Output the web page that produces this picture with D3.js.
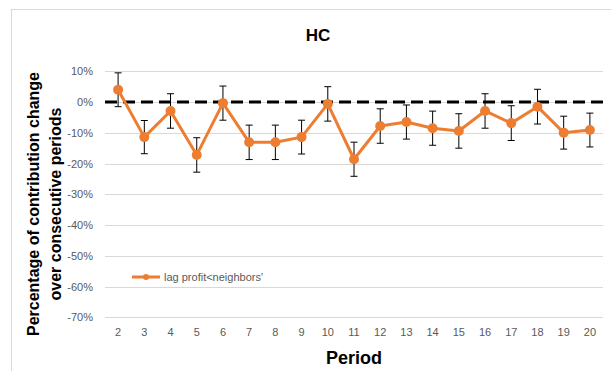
<!DOCTYPE html>
<html>
<head>
<meta charset="utf-8">
<script src="https://cdn.jsdelivr.net/npm/d3@7"></script>
<style>
  body { margin: 0; background: #fff; }
  text { font-family: "Liberation Sans", Arial, sans-serif; }
</style>
</head>
<body>
<svg id="chart" width="611" height="371"></svg>
<script>
// data (percent)
var periods = ['2', '3', '4', '5', '6', '7', '8', '9', '10', '11', '12', '13', '14', '15', '16', '17', '18', '19', '20'];
var values = [4.0, -11.4, -2.9, -17.2, -0.35, -13.1, -13.1, -11.4, -0.6, -18.6, -7.8, -6.5, -8.5, -9.4, -2.9, -6.85, -1.5, -9.95, -9.1];
var errors = [5.5, 5.4, 5.6, 5.6, 5.55, 5.6, 5.6, 5.5, 5.6, 5.55, 5.6, 5.55, 5.55, 5.6, 5.6, 5.65, 5.65, 5.35, 5.5];
var yTicks = [10, 0, -10, -20, -30, -40, -50, -60, -70];
var seriesName = "lag profit<neighbors'";

var orange = '#ED7D31';
var gridColor = '#d9d9d9';
var tickColor = '#595959';

var svg = d3.select('#chart');

// plot area (named so they don't clash with window.top)
var plotLeft = 105, plotRight = 603, plotTop = 71.3, plotBottom = 317.3;

var x = d3.scaleBand()
  .domain(periods)
  .range([plotLeft, plotRight])
  .padding(0);

var y = d3.scaleLinear()
  .domain([-70, 10])
  .range([plotBottom, plotTop]);

function cx(p) { return x(p) + x.bandwidth() / 2; }

// outer frame
svg.append('rect')
  .attr('x', 11.5)
  .attr('y', 9.5)
  .attr('width', 640)
  .attr('height', 420)
  .attr('fill', 'none')
  .attr('stroke', gridColor);

// title
svg.append('text')
  .attr('x', 318)
  .attr('y', 41)
  .attr('text-anchor', 'middle')
  .attr('font-size', 17)
  .attr('font-weight', 'bold')
  .text('HC');

// gridlines
svg.append('g')
  .selectAll('line')
  .data(yTicks)
  .enter().append('line')
  .attr('x1', plotLeft)
  .attr('x2', plotRight)
  .attr('y1', function(d) { return Math.round(y(d)) + 0.5; })
  .attr('y2', function(d) { return Math.round(y(d)) + 0.5; })
  .attr('stroke', gridColor)
  .attr('stroke-width', 1);

// y axis labels
var yAxis = svg.append('g')
  .attr('transform', 'translate(' + plotLeft + ',0)')
  .call(d3.axisLeft(y).tickValues(yTicks).tickSize(0).tickPadding(12)
    .tickFormat(function(d) { return d + '%'; }));
yAxis.select('.domain').remove();
yAxis.selectAll('text')
  .attr('fill', tickColor)
  .attr('font-size', 11)
  .attr('font-family', '"Liberation Sans", Arial, sans-serif');

// x axis labels
var xAxis = svg.append('g')
  .attr('transform', 'translate(0,' + plotBottom + ')')
  .call(d3.axisBottom(x).tickSize(0).tickPadding(11));
xAxis.select('.domain').remove();
xAxis.selectAll('text')
  .attr('fill', tickColor)
  .attr('font-size', 11)
  .attr('font-family', '"Liberation Sans", Arial, sans-serif');

// zero reference line
svg.append('line')
  .attr('x1', plotLeft)
  .attr('x2', plotRight)
  .attr('y1', y(0))
  .attr('y2', y(0))
  .attr('stroke', '#000')
  .attr('stroke-width', 3)
  .attr('stroke-dasharray', '12,6');

// error bars
var bars = svg.append('g')
  .selectAll('g')
  .data(periods)
  .enter().append('g');

bars.append('line')
  .attr('x1', function(d) { return cx(d); })
  .attr('x2', function(d) { return cx(d); })
  .attr('y1', function(d, i) { return y(values[i] + errors[i]); })
  .attr('y2', function(d, i) { return y(values[i] - errors[i]); })
  .attr('stroke', '#000')
  .attr('stroke-width', 1);

[1, -1].forEach(function(s) {
  bars.append('line')
    .attr('x1', function(d) { return cx(d) - 3.5; })
    .attr('x2', function(d) { return cx(d) + 3.5; })
    .attr('y1', function(d, i) { return y(values[i] + s * errors[i]); })
    .attr('y2', function(d, i) { return y(values[i] + s * errors[i]); })
    .attr('stroke', '#000')
    .attr('stroke-width', 1);
});

// series line
var line = d3.line()
  .x(function(d, i) { return cx(periods[i]); })
  .y(function(d) { return y(d); });

svg.append('path')
  .datum(values)
  .attr('d', line)
  .attr('fill', 'none')
  .attr('stroke', orange)
  .attr('stroke-width', 3)
  .attr('stroke-linejoin', 'round');

svg.append('g')
  .selectAll('circle')
  .data(values)
  .enter().append('circle')
  .attr('cx', function(d, i) { return cx(periods[i]); })
  .attr('cy', function(d) { return y(d); })
  .attr('r', 5)
  .attr('fill', orange);

// legend
var legend = svg.append('g').attr('transform', 'translate(132,277)');
legend.append('line')
  .attr('x1', 0).attr('x2', 28)
  .attr('stroke', orange)
  .attr('stroke-width', 3);
legend.append('circle')
  .attr('cx', 14)
  .attr('r', 3)
  .attr('fill', orange);
legend.append('text')
  .attr('x', 32)
  .attr('dy', '0.35em')
  .attr('font-size', 11)
  .attr('fill', tickColor)
  .text(seriesName);

// axis titles
var yTitle = svg.append('text')
  .attr('transform', 'translate(39,204) rotate(-90)')
  .attr('text-anchor', 'middle')
  .attr('font-size', 16)
  .attr('font-weight', 'bold');
yTitle.append('tspan').attr('x', 0).attr('y', 0).text('Percentage of contribution change');
yTitle.append('tspan').attr('x', 0).attr('y', 22).text('over consecutive periods');

svg.append('text')
  .attr('x', (plotLeft + plotRight) / 2)
  .attr('y', 364)
  .attr('text-anchor', 'middle')
  .attr('font-size', 18)
  .attr('font-weight', 'bold')
  .text('Period');
</script>
</body>
</html>
